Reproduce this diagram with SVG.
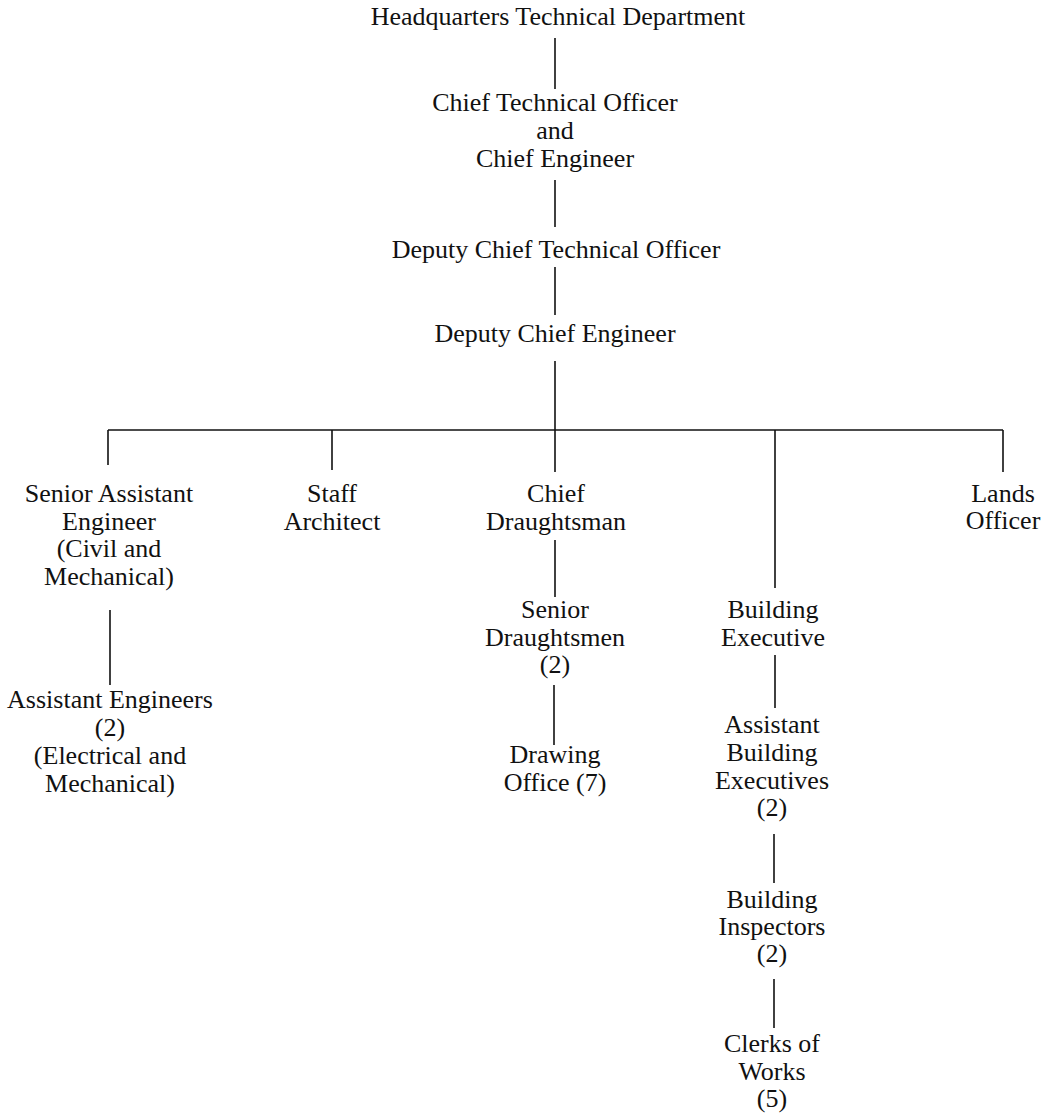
<svg xmlns="http://www.w3.org/2000/svg" width="1043" height="1115" viewBox="0 0 1043 1115">
<style>
text{font-family:"Liberation Serif","Times New Roman",serif;font-size:26px;fill:#111;text-anchor:middle}
.c line{stroke:#111;stroke-width:1.6;fill:none}
</style>
<rect width="1043" height="1115" fill="#fff"/>
<g class="c" id="connectors">
<line x1="555" y1="38" x2="555" y2="89"/>
<line x1="555" y1="180" x2="555" y2="227"/>
<line x1="555" y1="267" x2="555" y2="315"/>
<line x1="555" y1="361" x2="555" y2="472"/>
<line x1="108" y1="430" x2="1003" y2="430"/>
<line x1="108" y1="430" x2="108" y2="465"/>
<line x1="332" y1="430" x2="332" y2="470"/>
<line x1="775" y1="430" x2="775" y2="588"/>
<line x1="1003" y1="430" x2="1003" y2="472"/>
<line x1="110" y1="610" x2="110" y2="685"/>
<line x1="555" y1="540" x2="555" y2="597"/>
<line x1="554" y1="685" x2="554" y2="745"/>
<line x1="775" y1="655" x2="775" y2="708"/>
<line x1="774" y1="834" x2="774" y2="883"/>
<line x1="774" y1="979" x2="774" y2="1028"/>
</g>
<g id="hq"><text x="558" y="25">Headquarters Technical Department</text></g>
<g id="cto"><text x="555" y="111">Chief Technical Officer</text><text x="555" y="139">and</text><text x="555" y="167">Chief Engineer</text></g>
<g id="dcto"><text x="556" y="258">Deputy Chief Technical Officer</text></g>
<g id="dce"><text x="555" y="342">Deputy Chief Engineer</text></g>
<g id="sae"><text x="109" y="502">Senior Assistant</text><text x="109" y="530">Engineer</text><text x="109" y="557">(Civil and</text><text x="109" y="585">Mechanical)</text></g>
<g id="ae"><text x="110" y="708">Assistant Engineers</text><text x="110" y="736">(2)</text><text x="110" y="764">(Electrical and</text><text x="110" y="792">Mechanical)</text></g>
<g id="sa"><text x="332" y="502">Staff</text><text x="332" y="530">Architect</text></g>
<g id="cd"><text x="556" y="502">Chief</text><text x="556" y="530">Draughtsman</text></g>
<g id="sd"><text x="555" y="618">Senior</text><text x="555" y="646">Draughtsmen</text><text x="555" y="673">(2)</text></g>
<g id="do"><text x="555" y="763">Drawing</text><text x="555" y="791">Office (7)</text></g>
<g id="be"><text x="773" y="618">Building</text><text x="773" y="646">Executive</text></g>
<g id="abe"><text x="772" y="733">Assistant</text><text x="772" y="761">Building</text><text x="772" y="789">Executives</text><text x="772" y="816">(2)</text></g>
<g id="bi"><text x="772" y="908">Building</text><text x="772" y="935">Inspectors</text><text x="772" y="962">(2)</text></g>
<g id="cw"><text x="772" y="1052">Clerks of</text><text x="772" y="1080">Works</text><text x="772" y="1107">(5)</text></g>
<g id="lo"><text x="1003" y="502">Lands</text><text x="1003" y="529">Officer</text></g>
</svg>
